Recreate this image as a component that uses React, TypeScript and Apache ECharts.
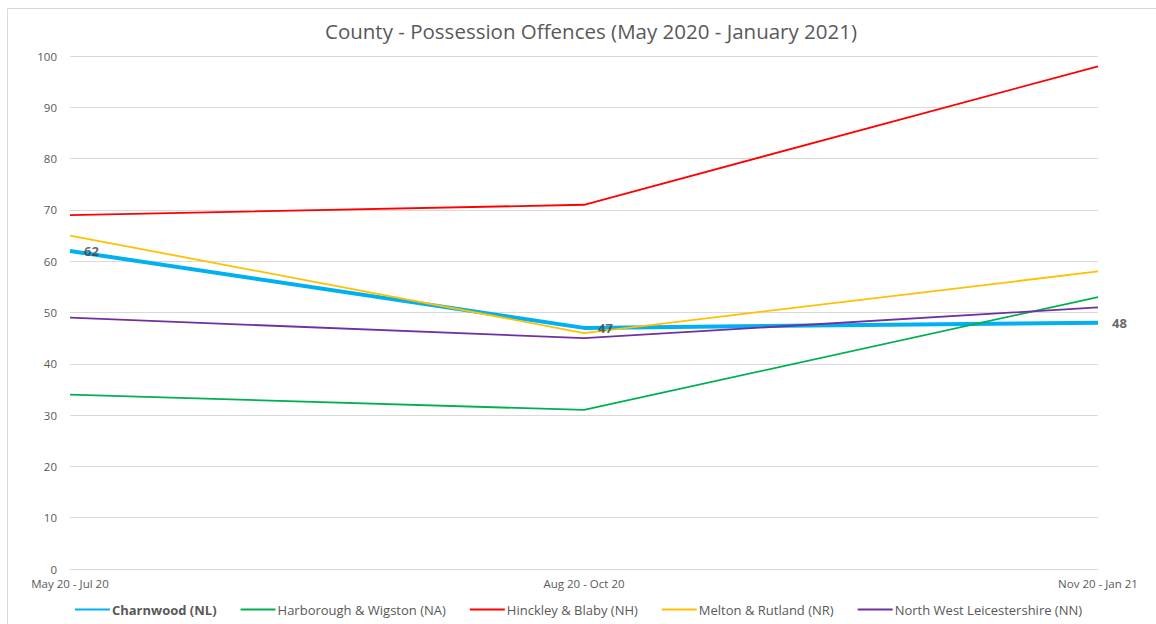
import React, { useEffect, useRef } from "react";
import * as echarts from "echarts";

const categories = ["May 20 - Jul 20", "Aug 20 - Oct 20", "Nov 20 - Jan 21"];
const charnwood = [62, 47, 48];
const harborough = [34, 31, 53];
const hinckley = [69, 71, 98];
const melton = [65, 46, 58];
const nwLeics = [49, 45, 51];
const seriesNames = [
  "Charnwood (NL)",
  "Harborough & Wigston (NA)",
  "Hinckley & Blaby (NH)",
  "Melton & Rutland (NR)",
  "North West Leicestershire (NN)",
];
const title = "County - Possession Offences (May 2020 - January 2021)";

const FONT = "'Open Sans', 'Noto Sans', sans-serif";

export default function App() {
  const ref = useRef<HTMLDivElement>(null);
  useEffect(() => {
    if (!ref.current) return;
    const chart = echarts.init(ref.current, null, { renderer: "svg" });
    const colors = ["#00b0f0", "#00b050", "#ff0000", "#ffc000", "#7030a0"];
    const data = [charnwood, harborough, hinckley, melton, nwLeics];
    const lineSeries = seriesNames.map((n, i) => ({
      name: n,
      type: "line",
      data: data[i],
      symbol: "none",
      z: i === 0 ? 1 : 2,
      lineStyle: { color: colors[i], width: i === 0 ? 4 : 1.8 },
      itemStyle: { color: colors[i] },
    }));
    const labelSeries = {
      name: "Charnwood labels",
      type: "scatter",
      data: charnwood,
      symbolSize: 0,
      z: 5,
      silent: true,
      itemStyle: { color: "transparent" },
      label: {
        show: true,
        position: "right",
        distance: 14,
        color: "#404040",
        fontWeight: "bold",
        fontSize: 13,
        fontFamily: FONT,
      },
    };
    chart.setOption({
      animation: false,
      backgroundColor: "#ffffff",
      textStyle: { fontFamily: FONT },
      title: {
        text: title,
        left: 586,
        textAlign: "center",
        top: 15,
        textStyle: { fontSize: 20.5, fontWeight: "normal", color: "#595959", fontFamily: FONT },
      },
      graphic: [
        {
          type: "rect",
          shape: { x: 7.5, y: 8.5, width: 1160, height: 630 },
          style: { fill: "none", stroke: "#d9d9d9", lineWidth: 1 },
          silent: true,
        },
      ],
      legend: {
        bottom: 3,
        left: "center",
        itemWidth: 35,
        itemHeight: 10,
        itemGap: 23,
        itemStyle: { opacity: 0 },
        data: seriesNames.map((n, i) => ({
          name: n,
          textStyle: i === 0 ? { fontWeight: "bold" } : {},
        })),
        textStyle: { color: "#595959", fontSize: 13, fontFamily: FONT, padding: [0, 0, 0, -3] },
      },
      grid: { left: 70, right: 58, top: 56, bottom: 55 },
      xAxis: {
        type: "category",
        data: categories,
        boundaryGap: false,
        axisLine: { lineStyle: { color: "#d9d9d9" } },
        axisTick: { show: false },
        axisLabel: {
          color: "#595959",
          fontSize: 11.5,
          margin: 8,
          fontFamily: FONT,
        },
      },
      yAxis: {
        type: "value",
        min: 0,
        max: 100,
        interval: 10,
        axisLine: { show: false },
        axisTick: { show: false },
        axisLabel: { color: "#595959", fontSize: 11.5, margin: 13, fontFamily: FONT },
        splitLine: { lineStyle: { color: "#d9d9d9" } },
      },
      series: [...lineSeries, labelSeries],
    });
    return () => chart.dispose();
  }, []);
  return (
    <div
      ref={ref}
      style={{ position: "fixed", left: 0, top: 0, width: 1156, height: 624 }}
    />
  );
}
